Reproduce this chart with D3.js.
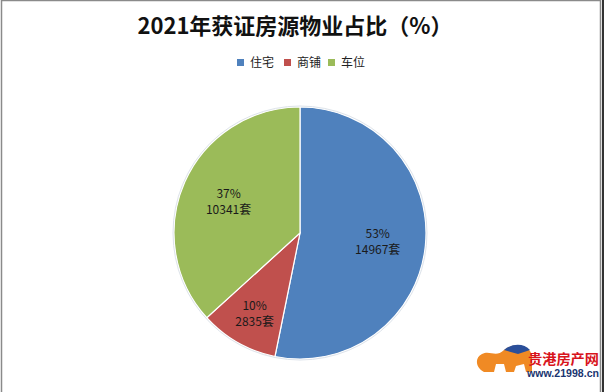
<!DOCTYPE html>
<html><head><meta charset="utf-8">
<script src="https://cdn.jsdelivr.net/npm/d3@7/dist/d3.min.js"></script>
<style>html,body{margin:0;padding:0;background:#fff;}svg{display:block;}</style>
</head><body>
<svg id="chart" width="604" height="392"></svg>
<script>
const categories = ["住宅", "商铺", "车位"];
const counts = [14967, 2835, 10341];
const percentLabels = ["53%", "10%", "37%"];
const colors = ["#4F81BD", "#C0504D", "#9BBB59"];
const title = "2021年获证房源物业占比（%）";

const svg = d3.select("#chart");
const W = 604, H = 392;
const font = "'Noto Sans CJK SC', 'Liberation Sans', sans-serif";

// frame
svg.append("rect").attr("x", 1.5).attr("y", 0.5).attr("width", 599).attr("height", 400)
  .attr("fill", "#fff").attr("stroke", "#8a8a8a").attr("stroke-width", 1.5);
svg.append("rect").attr("x", 602).attr("y", 0).attr("width", 2).attr("height", H).attr("fill", "#333");

// title
svg.append("text").attr("x", 295).attr("y", 34).attr("text-anchor", "middle")
  .attr("font-family", font).attr("font-weight", "bold").attr("font-size", 22)
  .attr("fill", "#111").text(title);

// legend
const legendX = [237, 284, 328];
const lg = svg.append("g");
categories.forEach((c, i) => {
  lg.append("rect").attr("x", legendX[i]).attr("y", 59).attr("width", 7).attr("height", 7).attr("fill", colors[i]);
  lg.append("text").attr("x", legendX[i] + 13).attr("y", 67).attr("font-family", font)
    .attr("font-size", 12).attr("fill", "#222").text(c);
});

// pie
const cx = 300, cy = 233, R = 126;
const pie = d3.pie().sort(null).value(d => d)(counts);
const arc = d3.arc().innerRadius(0).outerRadius(R);
const g = svg.append("g").attr("transform", `translate(${cx},${cy})`);
g.selectAll("path").data(pie).join("path")
  .attr("d", arc).attr("fill", (d, i) => colors[i])
  .attr("stroke", "#fff").attr("stroke-width", 1.2);
g.append("circle").attr("r", R + 1).attr("fill", "none").attr("stroke", "#dde3ea").attr("stroke-width", 1);

const total = d3.sum(counts);
pie.forEach((d, i) => {
  const frac = counts[i] / total;
  const lr = frac < 0.15 ? R * 0.73 : R * 0.62;
  const la = d3.arc().innerRadius(lr).outerRadius(lr);
  const [x, y] = la.centroid(d);
  const t = g.append("text").attr("text-anchor", "middle").attr("font-family", font)
    .attr("font-size", 12).attr("fill", "#1a1a1a");
  t.append("tspan").attr("x", x).attr("y", y - 3).text(percentLabels[i]);
  t.append("tspan").attr("x", x).attr("y", y + 13).text(counts[i] + "套");
});

// watermark
const wm = svg.append("g");
wm.append("path").attr("d", "M484,372 C476,368 474,358 482,354 C490,350 496,358 504,350 C514,342 530,344 532,356 L532,372 L526,372 L524,364 L516,366 L514,372 L506,372 L504,364 L496,364 L494,372 Z")
  .attr("fill", "#f08a24");
wm.append("path").attr("d", "M504,350 C512,343 524,343 530,350 L518,354 Z").attr("fill", "#2a4f9a");
wm.append("text").attr("x", 528).attr("y", 364).attr("font-family", font).attr("font-weight", "bold")
  .attr("font-size", 14).attr("textLength", 71).attr("lengthAdjust", "spacingAndGlyphs")
  .attr("fill", "#d8141c").text("贵港房产网");
wm.append("text").attr("x", 527).attr("y", 377).attr("font-family", "'Liberation Sans', sans-serif").attr("font-weight", "bold")
  .attr("font-size", 10).attr("textLength", 72).attr("lengthAdjust", "spacingAndGlyphs")
  .attr("fill", "#1a3570").text("www.21998.cn");
</script>
</body></html>
